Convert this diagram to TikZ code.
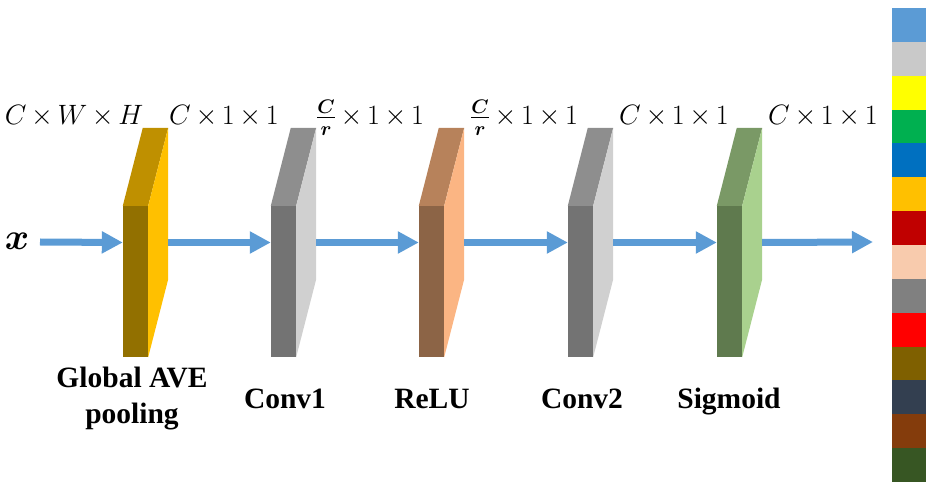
\RequirePackage{fix-cm}
\documentclass[tikz,border=0pt]{standalone}
\usepackage{amsmath}
\usepackage{bm}
\usepackage{fontspec}
\newfontfamily\lblfont{Liberation Serif}
\usetikzlibrary{arrows.meta}

\definecolor{arrblue}{HTML}{5B9BD5}
\definecolor{yfront}{HTML}{927000}
\definecolor{ytop}{HTML}{BF9000}
\definecolor{yside}{HTML}{FFC000}
\definecolor{gfront}{HTML}{737373}
\definecolor{gtop}{HTML}{8E8E8E}
\definecolor{gside}{HTML}{D0D0D0}
\definecolor{rfront}{HTML}{8C6446}
\definecolor{rtop}{HTML}{B7825B}
\definecolor{rside}{HTML}{FBB583}
\definecolor{sfront}{HTML}{5F7A4E}
\definecolor{stop}{HTML}{7A9966}
\definecolor{sside}{HTML}{A9D18E}

\definecolor{cb1}{HTML}{5B9BD5}
\definecolor{cb2}{HTML}{C9C9C9}
\definecolor{cb3}{HTML}{FFFF00}
\definecolor{cb4}{HTML}{00B050}
\definecolor{cb5}{HTML}{0070C0}
\definecolor{cb6}{HTML}{FFC000}
\definecolor{cb7}{HTML}{C00000}
\definecolor{cb8}{HTML}{F8CBAD}
\definecolor{cb9}{HTML}{808080}
\definecolor{cb10}{HTML}{FF0000}
\definecolor{cb11}{HTML}{7F6000}
\definecolor{cb12}{HTML}{333F50}
\definecolor{cb13}{HTML}{843C0C}
\definecolor{cb14}{HTML}{375623}

\newcommand\dimfont{\fontsize{28}{34}\selectfont\medmuskip=3mu\relax}

\tikzset{
  blk/.style={rectangle, inner sep=0pt, minimum width=25pt, minimum height=151pt, fill=#1},
  flow/.style={draw=arrblue, line width=7pt, -{Triangle[length=21pt,width=21pt]}},
  dimlbl/.style={anchor=base, inner sep=0pt, font=\dimfont},
  namelbl/.style={anchor=base, inner sep=0pt, align=center, font=\lblfont\bfseries\fontsize{29.5}{35}\selectfont},
}

\newcommand\myblock[5]{%
  \node[blk=#3] (#1) at (#2,200.5) {};
  \fill[#4] (#1.north west) -- ++(20,78) -- ([shift={(20,78)}]#1.north east) -- (#1.north east) -- cycle;
  \fill[#5] (#1.north east) -- ++(20,78) -- ([shift={(20,78)}]#1.south east) -- (#1.south east) -- cycle;
  \coordinate (#1in) at ([yshift=39pt]#1.west);
  \coordinate (#1out) at ([shift={(20pt,39pt)}]#1.east);
}

\begin{document}
\begin{tikzpicture}[x=1pt,y=1pt]
\useasboundingbox (0,0) rectangle (926,482);

% blocks
\myblock{b1}{135.5}{yfront}{ytop}{yside}
\myblock{b2}{283.5}{gfront}{gtop}{gside}
\myblock{b3}{431.5}{rfront}{rtop}{rside}
\myblock{b4}{580.5}{gfront}{gtop}{gside}
\myblock{b5}{729.5}{sfront}{stop}{sside}

% input / output
\node[inner sep=0pt, font=\fontsize{37}{42}\selectfont] (xin) at (17,241) {$\bm{x}$};
\coordinate (start) at (40,240);
\coordinate (finish) at (873,240);

% arrows
\draw[flow] (start) -- (b1in);
\draw[flow] (b1out) -- (b2in);
\draw[flow] (b2out) -- (b3in);
\draw[flow] (b3out) -- (b4in);
\draw[flow] (b4out) -- (b5in);
\draw[flow] (b5out) -- (finish);

% dimension labels
\node[dimlbl] (d0) at (74,357) {$C\times W\times H$};
\node[dimlbl] (d1) at (224,357) {$C\times 1\times 1$};
\node[dimlbl] (d2) at (370,357) {$\bm{\frac{C}{r}}\times 1\times 1$};
\node[dimlbl] (d3) at (524,357) {$\bm{\frac{C}{r}}\times 1\times 1$};
\node[dimlbl] (d4) at (674,357) {$C\times 1\times 1$};
\node[dimlbl] (d5) at (823,357) {$C\times 1\times 1$};

% names
\node[namelbl] (n1) at (132,94) {Global AVE};
\node[namelbl] (n1b) at (132,59) {pooling};
\node[namelbl] (n2) at (285,74) {Conv1};
\node[namelbl] (n3) at (432,74) {ReLU};
\node[namelbl] (n4) at (582,74) {Conv2};
\node[namelbl] (n5) at (729,74) {Sigmoid};

% colour bar
\foreach \i in {1,...,14} {
  \fill[cb\i] (892,{474-(\i-1)*33.857}) rectangle (926,{474-\i*33.857});
}
\end{tikzpicture}
\end{document}
